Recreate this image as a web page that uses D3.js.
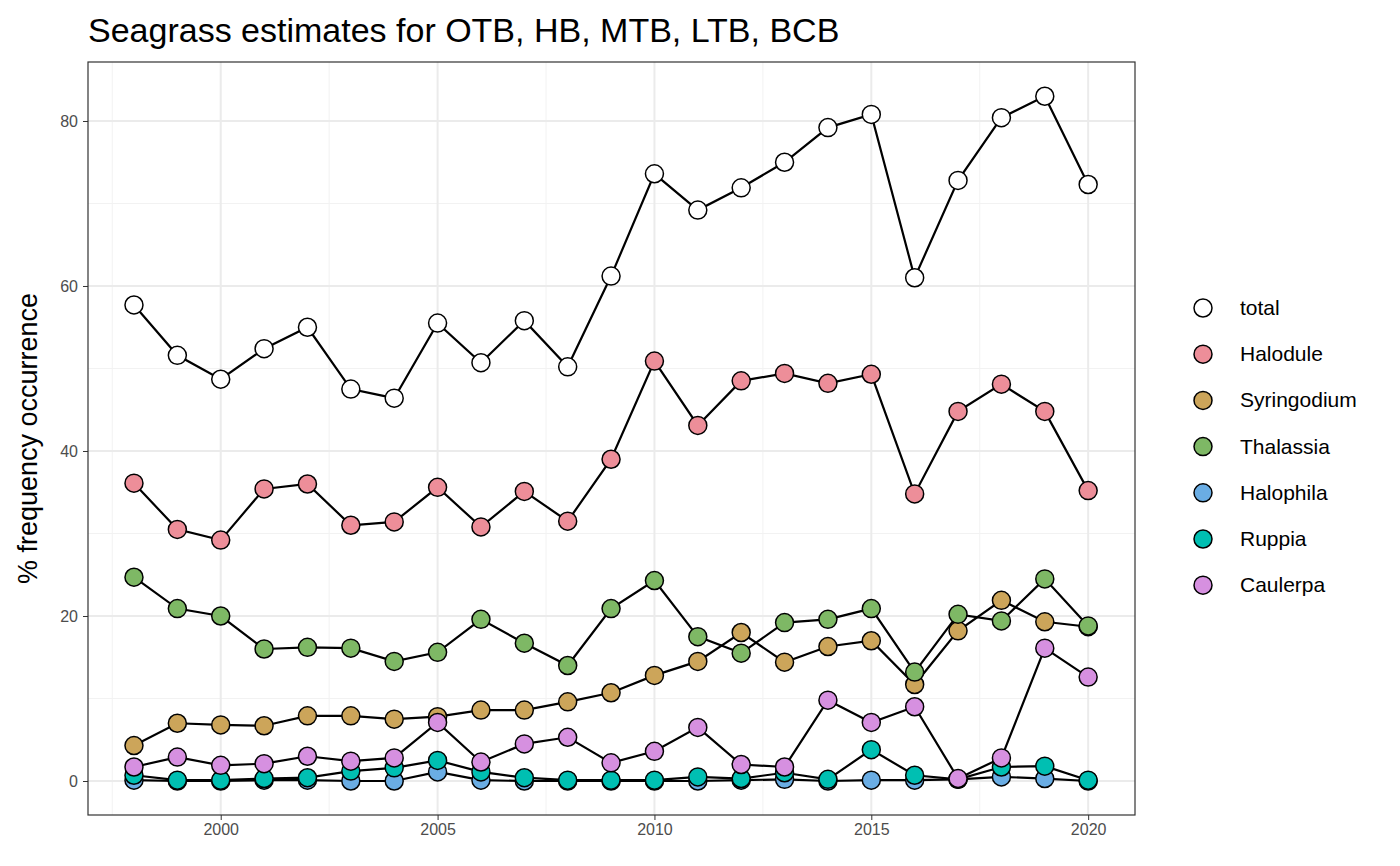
<!DOCTYPE html><html><head><meta charset="utf-8">
<script src="https://cdn.jsdelivr.net/npm/d3@7"></script>
<style>body{margin:0;background:#fff}text{font-family:"Liberation Sans",Arial,sans-serif}</style></head><body>
<svg id="c" width="1400" height="866"></svg>
<script>
const years=d3.range(1998,2021);
const seriesNames=["total","Halodule","Syringodium","Thalassia","Halophila","Ruppia","Caulerpa"];
const colors=["#FFFFFF","#ED8E99","#CCA55A","#7EB865","#6AADE4","#00BFB2","#D690E0"];
const total=[57.7,51.6,48.7,52.4,55.0,47.5,46.4,55.5,50.7,55.8,50.2,61.2,73.6,69.2,71.9,75.0,79.2,80.8,61.0,72.8,80.4,83.0,72.3];
const halodule=[36.1,30.5,29.2,35.4,36.0,31.0,31.4,35.6,30.8,35.1,31.5,39.0,50.9,43.1,48.5,49.4,48.2,49.3,34.8,44.8,48.1,44.8,35.2];
const syringodium=[4.3,7.0,6.8,6.7,7.9,7.9,7.5,7.8,8.6,8.6,9.6,10.7,12.8,14.5,18.0,14.4,16.3,17.0,11.7,18.2,21.9,19.3,18.7];
const thalassia=[24.7,20.9,20.0,16.0,16.2,16.1,14.5,15.6,19.6,16.7,14.0,20.9,24.3,17.5,15.5,19.2,19.6,20.9,13.2,20.2,19.4,24.5,18.8];
const halophila=[0.1,0,0,0.1,0.1,0,0,1.1,0.1,0,0,0,0,0,0.1,0.2,0,0.1,0.1,0.2,0.5,0.3,0];
const ruppia=[0.7,0.1,0.1,0.3,0.4,1.2,1.6,2.5,1.1,0.4,0.1,0.1,0.1,0.5,0.3,1.0,0.2,3.8,0.7,0.2,1.7,1.8,0.1];
const caulerpa=[1.7,2.9,1.9,2.1,3.0,2.4,2.8,7.1,2.3,4.5,5.3,2.2,3.6,6.5,2.0,1.7,9.8,7.1,9.0,0.3,2.8,16.1,12.6];
const values=[total,halodule,syringodium,thalassia,halophila,ruppia,caulerpa];
const xTicks=[2000,2005,2010,2015,2020], yTicks=[0,20,40,60,80];
const svg=d3.select("#c");
const L=88,R=1135,T=62,B=815;
const x=d3.scaleLinear().domain([1996.94,2021.08]).range([L,R]);
const y=d3.scaleLinear().domain([-4.12,87.15]).range([B,T]);
const g=svg.append("g");
d3.range(1997.5,2021,5).forEach(v=>g.append("line").attr("x1",x(v)).attr("x2",x(v)).attr("y1",T).attr("y2",B).attr("stroke","#f2f2f2").attr("stroke-width",1));
d3.range(10,90,20).forEach(v=>g.append("line").attr("y1",y(v)).attr("y2",y(v)).attr("x1",L).attr("x2",R).attr("stroke","#f2f2f2").attr("stroke-width",1));
xTicks.forEach(v=>g.append("line").attr("x1",x(v)).attr("x2",x(v)).attr("y1",T).attr("y2",B).attr("stroke","#ebebeb").attr("stroke-width",2));
yTicks.forEach(v=>g.append("line").attr("y1",y(v)).attr("y2",y(v)).attr("x1",L).attr("x2",R).attr("stroke","#ebebeb").attr("stroke-width",2));
const ax=svg.append("g").attr("transform",`translate(0,${B})`).call(d3.axisBottom(x).tickValues(xTicks).tickFormat(d3.format("d")).tickSize(5).tickPadding(4));
const ay=svg.append("g").attr("transform",`translate(${L},0)`).call(d3.axisLeft(y).tickValues(yTicks).tickSize(5).tickPadding(5));
[ax,ay].forEach(a=>{a.attr("font-size",16).attr("font-family",null);a.select(".domain").remove();a.selectAll("line").attr("stroke","#333");a.selectAll("text").attr("fill","#4d4d4d");});
const line=d3.line().x((d,i)=>x(years[i])).y(d=>y(d));
values.forEach(vals=>{
  svg.append("path").attr("d",line(vals)).attr("fill","none").attr("stroke","#000").attr("stroke-width",2.2);
});
values.forEach((vals,k)=>{
  svg.append("g").selectAll("circle").data(vals).join("circle").attr("cx",(d,i)=>x(years[i])).attr("cy",d=>y(d)).attr("r",9).attr("fill",colors[k]).attr("stroke","#000").attr("stroke-width",1.5);
});
svg.append("rect").attr("x",L).attr("y",T).attr("width",R-L).attr("height",B-T).attr("fill","none").attr("stroke","#333").attr("stroke-width",1.2);
svg.append("text").attr("x",88).attr("y",42).text("Seagrass estimates for OTB, HB, MTB, LTB, BCB").style("font-size","34px").attr("fill","#000");
svg.append("text").attr("transform",`translate(37,${(T+B)/2}) rotate(-90)`).attr("text-anchor","middle").text("% frequency occurrence").style("font-size","27px");
seriesNames.forEach((n,k)=>{
  const yy=308+k*46.2;
  svg.append("circle").attr("cx",1203).attr("cy",yy).attr("r",9).attr("fill",colors[k]).attr("stroke","#000").attr("stroke-width",1.5);
  svg.append("text").attr("x",1240).attr("y",yy+7).text(n).style("font-size","21px");
});
</script></body></html>
